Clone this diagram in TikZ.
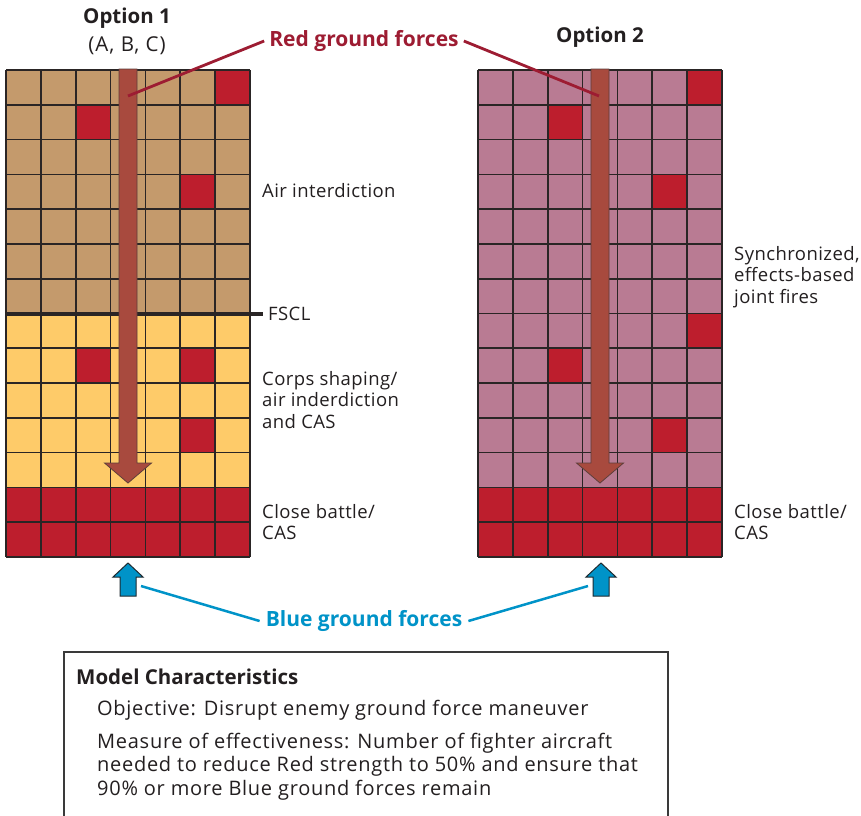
\documentclass[tikz,border=0pt]{standalone}
\usepackage{fontspec}
\setmainfont{Open Sans}
\newfontfamily\zonefont[LetterSpace=2.3]{Open Sans}
\newfontfamily\panelfont[LetterSpace=3.6]{Open Sans}
\newfontfamily\subfont[LetterSpace=5.0]{Open Sans}
\definecolor{tanc}{HTML}{C49A6C}
\definecolor{yelc}{HTML}{FECB69}
\definecolor{pinkc}{HTML}{B97B93}
\definecolor{cellred}{HTML}{BD1E2D}
\definecolor{gridc}{HTML}{2A2525}
\definecolor{arrowc}{HTML}{A84A3E}
\definecolor{arrowedge}{HTML}{5E3E3A}
\definecolor{redtxt}{HTML}{9D1C32}
\definecolor{bluec}{HTML}{0093C8}
\definecolor{blueedge}{HTML}{1E2A30}
\definecolor{txt}{HTML}{231F20}
\definecolor{boxc}{HTML}{3A3A3A}
\tikzset{
  gridline/.style={draw=gridc, line width=1.6pt},
  sidelabel/.style={anchor=west, inner sep=0pt, align=left, text=txt,
    font=\zonefont\fontsize{18.5}{21.7}\selectfont},
  headlabel/.style={text=txt, inner sep=0pt, font=\bfseries\fontsize{20.5}{24}\selectfont},
  sublabel/.style={text=txt, inner sep=0pt, font=\subfont\fontsize{20.5}{24}\selectfont},
  forcelabel/.style={inner sep=5pt, font=\bfseries\fontsize{21}{24}\selectfont},
  redarrow/.style={fill=arrowc, draw=arrowedge, line width=0.8pt},
  bluearrow/.style={fill=bluec, draw=blueedge, line width=1pt},
  boxtitle/.style={anchor=west, inner sep=0pt, text=txt, font=\bfseries\fontsize{20.5}{24}\selectfont},
  boxtext/.style={anchor=west, inner sep=0pt, align=left, text=txt,
    font=\panelfont\fontsize{20}{23.5}\selectfont},
}
\def\cw{34.857}
\def\rh{34.786}
\begin{document}
\begin{tikzpicture}[x=1pt,y=-1pt]
\useasboundingbox (0,0) rectangle (861,815);
\fill[white] (0,0) rectangle (861,815);

% ---- Option 1 grid ----
\begin{scope}[shift={(6,70)}]
  \fill[tanc] (0,0) rectangle (7*\cw,7*\rh);
  \fill[yelc] (0,7*\rh) rectangle (7*\cw,12*\rh);
  \fill[cellred] (0,12*\rh) rectangle (7*\cw,14*\rh);
  \foreach \c/\r in {6/0,2/1,5/3,2/8,5/8,5/10}
    \fill[cellred] (\c*\cw,\r*\rh) rectangle ++(\cw,\rh);
  \foreach \i in {0,...,7} \draw[gridline] (\i*\cw,0) -- (\i*\cw,14*\rh);
  \foreach \j in {0,...,14} \draw[gridline] (0,\j*\rh) -- (7*\cw,\j*\rh);
\end{scope}

% ---- Option 2 grid ----
\begin{scope}[shift={(478,70)}]
  \fill[pinkc] (0,0) rectangle (7*\cw,12*\rh);
  \fill[cellred] (0,12*\rh) rectangle (7*\cw,14*\rh);
  \foreach \c/\r in {6/0,2/1,5/3,6/7,2/8,5/10}
    \fill[cellred] (\c*\cw,\r*\rh) rectangle ++(\cw,\rh);
  \foreach \i in {0,...,7} \draw[gridline] (\i*\cw,0) -- (\i*\cw,14*\rh);
  \foreach \j in {0,...,14} \draw[gridline] (0,\j*\rh) -- (7*\cw,\j*\rh);
\end{scope}

% ---- FSCL ----
\node[sidelabel] (fscl) at (268,314) {FSCL};
\coordinate (fsclstart) at (6,314);
\draw[gridc, line width=4.5pt] (fsclstart) -- ([xshift=-5pt]fscl.west);

% ---- Red advance arrows ----
\foreach \cx in {128,600}
  \draw[redarrow] (\cx-9,69) -- (\cx+9,69) -- (\cx+9,463) -- (\cx+23.5,463)
     -- (\cx,483) -- (\cx-23.5,463) -- (\cx-9,463) -- cycle;

% ---- Blue arrows ----
\foreach \cx in {128,601}
  \draw[bluearrow] (\cx,563) -- (\cx+15,577) -- (\cx+8,577) -- (\cx+8,596)
     -- (\cx-8,596) -- (\cx-8,577) -- (\cx-15,577) -- cycle;

% ---- Headings ----
\node[headlabel] (opt1) at (127,18) {Option 1};
\node[sublabel] (opt1sub) at (127,46) {(A, B, C)};
\node[headlabel] (opt2) at (600,37) {Option 2};

% ---- Force labels with leaders ----
\node[forcelabel, text=redtxt] (red) at (364,41) {Red ground forces};
\coordinate (redL) at (128,96);
\coordinate (redR) at (599,96);
\draw[redtxt, line width=2.8pt] (red.west) -- (redL);
\draw[redtxt, line width=2.8pt] (red.east) -- (redR);

\node[forcelabel, text=bluec, inner sep=6pt] (blue) at (364,621) {Blue ground forces};
\coordinate (blueL) at (141,586);
\coordinate (blueR) at (588,586);
\draw[bluec, line width=2.5pt] (blue.west) -- (blueL);
\draw[bluec, line width=2.5pt] (blue.east) -- (blueR);

% ---- Zone labels ----
\node[sidelabel] (airint) at (262,191) {Air interdiction};
\node[sidelabel] (corps) at (262,400) {Corps shaping/\\air inderdiction\\and CAS};
\node[sidelabel] (close1) at (262,522) {Close battle/\\CAS};
\node[sidelabel] (sync) at (734,277) {Synchronized,\\effects-based\\joint fires};
\node[sidelabel] (close2) at (734,522) {Close battle/\\CAS};

% ---- Model characteristics panel ----
\draw[boxc, line width=1.2pt] (64,816) -- (64,652) -- (668,652) -- (668,816);
\node[boxtitle] (mctitle) at (76,677) {Model Characteristics};
\node[boxtext] (mcobj) at (97,710) {Objective: Disrupt enemy ground force maneuver};
\node[boxtext] (mcmoe) at (97,766.5) {Measure of effectiveness: Number of fighter aircraft\\needed to reduce Red strength to 50\% and ensure that\\90\% or more Blue ground forces remain};
\end{tikzpicture}
\end{document}
